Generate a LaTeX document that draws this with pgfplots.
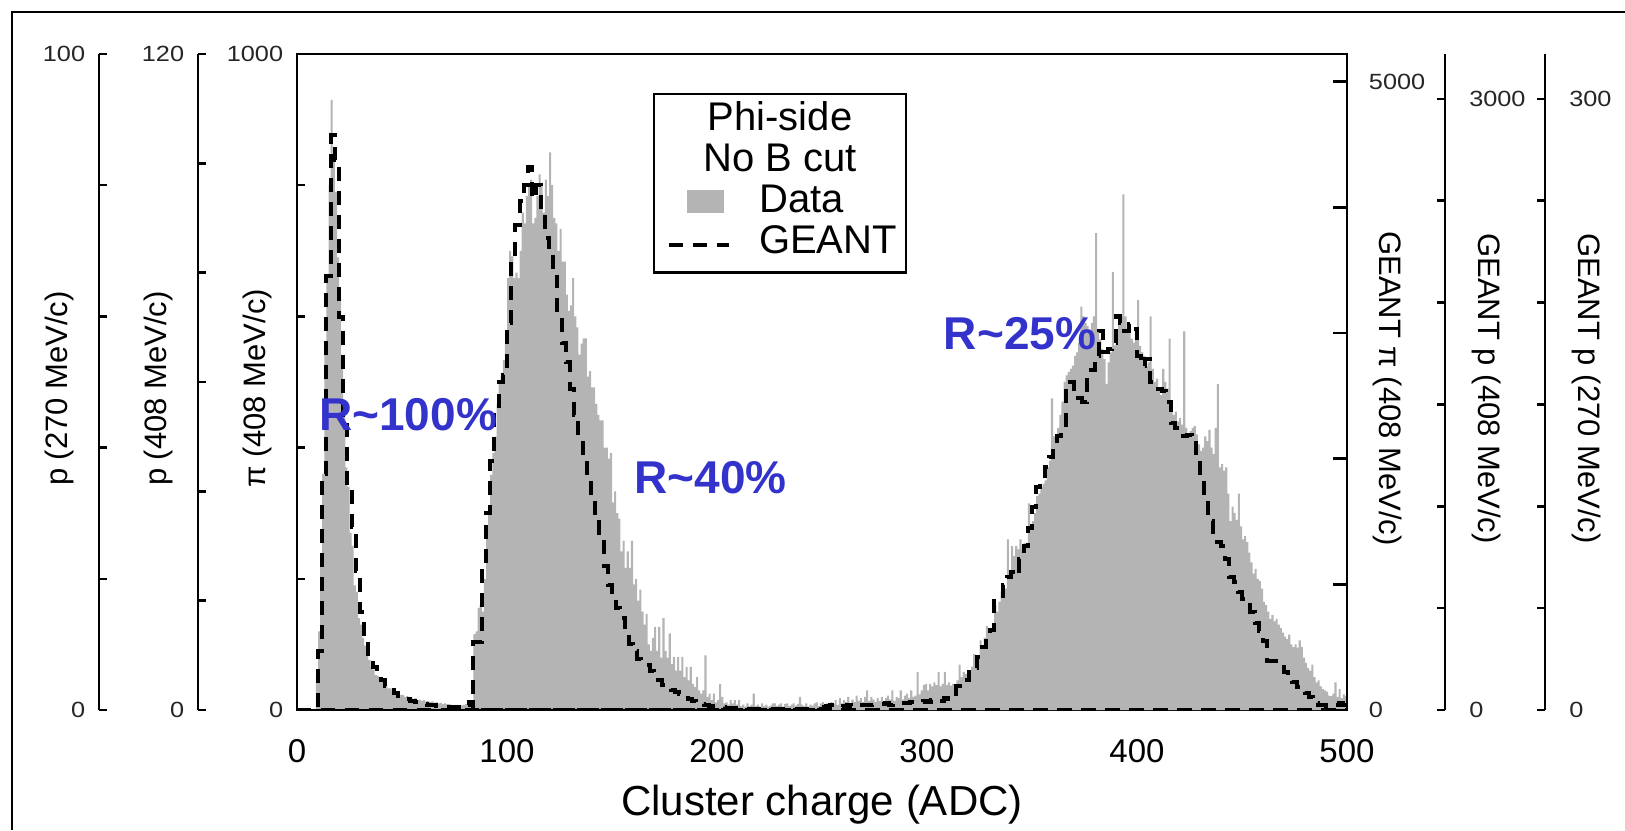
\documentclass[border=0pt]{standalone}
\usepackage{fontspec}
\setmainfont{Liberation Sans}
\usepackage{pgfplots}
\pgfplotsset{compat=1.18}

\definecolor{DataGray}{RGB}{180,180,180}
\definecolor{RBlue}{RGB}{51,51,204}

% one axis per scale, all sharing the same height; 1px of the original = 0.5pt
\pgfplotsset{
  stack/.style={
    scale only axis, height=328pt, ymin=0,
    axis line style={line width=1.3pt},
    every tick/.append style={line width=1.3pt, black},
    major tick length=4pt,
    ytick align=inside,
    /pgf/number format/assume math mode=true,
    yticklabel style={font=\fontsize{11}{12}\selectfont, xscale=1.15, text=black!85},
  },
  leftscale/.style={stack, axis x line=none, axis y line*=left,
    every axis y label/.style={at={(rel axis cs:0,0.49)}, xshift=-20pt, rotate=90, anchor=center,
      font=\fontsize{15.5}{17}\selectfont},
    yticklabel style={xshift=-2.5pt}},
  rightscale/.style={stack, axis x line=none, axis y line*=right,
    every axis y label/.style={at={(rel axis cs:1,0.49)}, xshift=20.5pt, rotate=-90, anchor=center,
      font=\fontsize{15.5}{17}\selectfont},
    yticklabel style={xshift=7pt}},
  datahist/.style={const plot, draw=none, fill=DataGray},
  geant/.style={const plot, black, line width=2pt, dash pattern=on 7pt off 5pt},
}

\begin{document}
\begin{tikzpicture}
\path[use as bounding box] (0,0) rectangle (812.5pt,415pt);
\draw[line width=1.3pt] (6pt,0) -- (6pt,409pt) -- (812.5pt,409pt);

% data, p 270 MeV/c
\begin{axis}[leftscale, at={(49.5pt,60pt)}, anchor=south west, width=624pt,
  xmin=-94.2857, xmax=500, ymax=100,
  ytick={0,20,...,100}, yticklabels={0,,,,,100},
  ylabel={p (270 MeV/c)}]
\addplot[datahist] coordinates {
(9,5) (10,12) (11,22) (12,36) (13,55) (14,66) (15,80) (16,93) (17,84) (18,79)
(19,69) (20,63) (21,52) (22,46) (23,37) (24,34) (25,27) (26,25) (27,19) (28,18)
(29,14) (30,13) (31,11) (32,9.8) (33,8.2) (34,7.6) (35,6.6) (36,6.2) (37,5.3) (38,5.2)
(39,4.4) (40,4.3) (41,3.8) (42,3.8) (43,3.3) (44,3.3) (45,2.9) (46,2.9) (47,2.5) (48,2.6)
(49,2.3) (50,2.3) (51,2.0) (52,2.1) (53,1.8) (54,1.9) (55,1.7) (56,1.8) (57,1.5) (58,1.6)
(59,1.4) (60,1.5) (61,1.3) (62,1.4) (63,1.2) (64,1.3) (65,1.1) (66,1.2) (67,1.0) (68,1.1)
(69,0.9) (70,1.0) (71,0.9) (72,0.9) (73,0.8) (74,0.8) (75,0.7) (76,0.8) (77,0.7) (78,0.7)
(79,0.8) (80,0.9) (81,1.0) (82,1.1) (83,1.2) (84,1.2)
} \closedcycle;
\end{axis}

% data, p 408 MeV/c
\begin{axis}[leftscale, at={(99pt,60pt)}, anchor=south west, width=574.5pt,
  xmin=-47.1429, xmax=500, ymax=120,
  ytick={0,20,...,120}, yticklabels={0,,,,,,120},
  ylabel={p (408 MeV/c)}]
\addplot[datahist] coordinates {
(84,13.9) (85,14.4) (86,18.7) (87,19.2) (88,18) (89,24) (90,32) (91,36) (92,43) (93,47)
(94,50) (95,56) (96,60) (97,61) (98,64) (99,67) (100,79) (101,84) (102,83) (103,79)
(104,80) (105,79) (106,84) (107,91) (108,89) (109,94) (110,96) (111,97) (112,89) (113,90)
(114,94) (115,98) (116,96) (117,91) (118,97) (119,94) (120,102) (121,96) (122,90) (123,89)
(124,84) (125,88) (126,82) (127,82) (128,76) (129,73) (130,74) (131,79) (132,72) (133,70)
(134,65) (135,67) (136,68) (137,68) (138,61) (139,62) (140,59) (141,59) (142,56) (143,54)
(144,53) (145,53) (146,48) (147,48) (148,46) (149,47) (150,38) (151,40) (152,36) (153,35)
(154,29) (155,31) (156,26) (157,29) (158,26) (159,31) (160,23) (161,24) (162,20) (163,22)
(164,18) (165,15.6) (166,17.6) (167,12) (168,10.8) (169,13.2) (170,15.2) (171,10.8) (172,15.2) (173,9.6)
(174,16.8) (175,10.8) (176,9.6) (177,14) (178,8.4) (179,9.7) (180,7.2) (181,9.7) (182,7.2) (183,9.7)
(184,6) (185,7.9) (186,5.4) (187,7.9) (188,4.8) (189,4.2) (190,6) (191,3.6) (192,3) (193,3.6)
(194,10) (195,2.4) (196,3) (197,1.8) (198,3) (199,1.4) (200,1.8) (201,4.8) (202,2.4) (203,1.2)
(204,1.4) (205,1) (206,1.8) (207,1.2) (208,1.8) (209,1) (210,1.8) (211,0.7) (212,1) (213,0.6)
(214,1.2) (215,0.7) (216,1) (217,3) (218,0.7) (219,1) (220,0.6) (221,1.2) (222,0.7) (223,1)
(224,0.6) (225,0.8) (226,1.2) (227,1.2) (228,0.7) (229,1) (230,1.2) (231,0.6) (232,1.1) (233,1.2)
(234,0.7) (235,1) (236,1.2) (237,0.8) (238,1.1) (239,2.4) (240,1) (241,0.7) (242,1.2) (243,0.6)
(244,1) (245,0.8) (246,1.2) (247,1.4) (248,0.7) (249,1.2) (250,1.2)
} \closedcycle;
\end{axis}

% data, pi 408 MeV/c -- main frame
\begin{axis}[stack, at={(148.5pt,60pt)}, anchor=south west, width=525pt,
  xmin=0, xmax=500, ymax=1000, tick pos=left,
  xtick={0,100,...,500}, xtick style={draw=none},
  xticklabel style={font=\fontsize{16.5}{18}\selectfont, anchor=base, yshift=-26pt},
  ytick={0,200,...,1000}, yticklabels={0,,,,,1000},
  yticklabel style={xshift=-2.5pt},
  xlabel={Cluster charge (ADC)},
  xlabel style={at={(rel axis cs:0.5,0)}, anchor=base, yshift=-52.5pt, font=\fontsize{21}{24}\selectfont},
  ylabel={π (408 MeV/c)},
  every axis y label/.style={at={(rel axis cs:0,0.49)}, xshift=-20pt, rotate=90, anchor=center,
    font=\fontsize{15.5}{17}\selectfont}]
\addplot[datahist] coordinates {
(250,12) (251,8) (252,10) (253,6) (254,12) (255,9) (256,15) (257,8) (258,18) (259,10)
(260,15) (261,12) (262,20) (263,11) (264,16) (265,12) (266,22) (267,14) (268,18) (269,12)
(270,20) (271,30) (272,14) (273,20) (274,16) (275,12) (276,18) (277,14) (278,20) (279,12)
(280,18) (281,22) (282,16) (283,30) (284,14) (285,20) (286,18) (287,30) (288,16) (289,22)
(290,25) (291,18) (292,30) (293,20) (294,22) (295,58) (296,24) (297,30) (298,38) (299,40)
(300,30) (301,40) (302,36) (303,42) (304,38) (305,58) (306,36) (307,40) (308,58) (309,38)
(310,42) (311,37) (312,40) (313,35) (314,45) (315,69) (316,50) (317,58) (318,55) (319,56)
(320,60) (321,66) (322,85) (323,70) (324,80) (325,106) (326,95) (327,110) (328,128) (329,118)
(330,125) (331,128) (332,160) (333,150) (334,165) (335,180) (336,175) (337,185) (338,260) (339,210)
(340,250) (341,235) (342,250) (343,245) (344,260) (345,245) (346,255) (347,250) (348,315) (349,280)
(350,288) (351,300) (352,326) (353,330) (354,340) (355,345) (356,350) (357,370) (358,380) (359,475)
(360,417) (361,420) (362,430) (363,450) (364,470) (365,500) (366,510) (367,515) (368,520) (369,525)
(370,540) (371,545) (372,560) (373,615) (374,600) (375,590) (376,585) (377,580) (378,590) (379,600)
(380,727) (381,577) (382,565) (383,550) (384,535) (385,497) (386,530) (387,545) (388,668) (389,556)
(390,575) (391,590) (392,600) (393,786) (394,600) (395,580) (396,575) (397,566) (398,560) (399,580)
(400,625) (401,555) (402,545) (403,540) (404,524) (405,530) (406,600) (407,520) (408,500) (409,505)
(410,490) (411,480) (412,520) (413,500) (414,490) (415,566) (416,470) (417,450) (418,455) (419,440)
(420,445) (421,435) (422,577) (423,430) (424,420) (425,425) (426,430) (427,433) (428,420) (429,405)
(430,395) (431,400) (432,417) (433,410) (434,427) (435,400) (436,390) (437,430) (438,497) (439,370)
(440,375) (441,365) (442,370) (443,330) (444,288) (445,310) (446,300) (447,290) (448,330) (449,280)
(450,260) (451,265) (452,256) (453,240) (454,225) (455,208) (456,215) (457,200) (458,197) (459,185)
(460,165) (461,160) (462,150) (463,139) (464,145) (465,135) (466,139) (467,130) (468,125) (469,118)
(470,112) (471,108) (472,115) (473,100) (474,96) (475,100) (476,95) (477,106) (478,96) (479,80)
(480,72) (481,64) (482,60) (483,69) (484,50) (485,42) (486,45) (487,36) (488,32) (489,30)
(490,28) (491,22) (492,21) (493,25) (494,42) (495,20) (496,32) (497,18) (498,24) (499,21)
(500,21)
} \closedcycle;
\end{axis}

% GEANT, p 270 MeV/c
\begin{axis}[rightscale, at={(148.5pt,60pt)}, anchor=south west, width=624pt,
  xmin=0, xmax=594.2857, ymax=322,
  ytick={0,50,...,300}, yticklabels={0,,,,,,300},
  ylabel={GEANT p (270 MeV/c)}]
\addplot[geant] coordinates {
(0,0) (10,29) (12,116) (14,213) (16,282) (18,270) (20,193) (22,145) (24,109) (26,90)
(28,68) (30,48) (32,35) (34,26) (36,21) (38,18) (40,14.5) (42,11.6) (44,10) (46,8.4)
(48,7.1) (50,6.1) (52,5.2) (54,4.5) (56,3.9) (58,3.2) (60,2.9) (62,2.6) (64,2.3) (66,1.9)
(68,1.9) (70,1.6) (72,1.6) (74,1.3) (76,1.3) (78,1.9) (80,2.6) (82,3.9) (84,0) (500,0)
};
\end{axis}

% GEANT, p 408 MeV/c
\begin{axis}[rightscale, at={(148.5pt,60pt)}, anchor=south west, width=574pt,
  xmin=0, xmax=546.6667, ymax=3220,
  ytick={0,500,...,3000}, yticklabels={0,,,,,,3000},
  ylabel={GEANT p (408 MeV/c)}]
\addplot[geant] coordinates {
(0,0) (84,335) (86,335) (88,708) (90,966) (92,1224) (94,1449) (96,1610) (98,1642) (100,1900)
(102,2190) (104,2383) (106,2496) (108,2576) (110,2663) (112,2512) (114,2576) (116,2447) (118,2318) (120,2254)
(122,2125) (124,1932) (126,1803) (128,1707) (130,1578) (132,1449) (134,1320) (136,1224) (138,1127) (140,1030)
(142,934) (144,869) (146,708) (148,612) (150,547) (152,499) (154,451) (156,386) (158,322) (160,290)
(162,251) (164,232) (166,219) (168,193) (170,177) (172,148) (174,122) (176,109) (178,97) (180,87)
(182,77) (184,68) (186,55) (188,42) (190,35) (192,29) (194,23) (196,19) (198,16) (200,13)
(204,10) (210,6) (250,0) (500,0)
};
\end{axis}

% GEANT, pi 408 MeV/c, with legend and resolution notes
\begin{axis}[rightscale, at={(148.5pt,60pt)}, anchor=south west, width=525pt,
  xmin=0, xmax=500, ymax=5220, major tick length=7pt,
  ytick={0,1000,...,5000}, yticklabels={0,,,,,5000},
  yticklabel style={xshift=-1pt},
  ylabel={GEANT π (408 MeV/c)}]
\addplot[geant] coordinates {
(0,0) (250,21) (252,31) (254,42) (256,31) (258,26) (260,31) (262,42) (264,31) (266,26)
(268,37) (270,42) (272,37) (274,42) (276,42) (278,47) (280,52) (282,42) (284,47) (286,52)
(288,57) (290,52) (292,63) (294,68) (296,63) (298,73) (300,63) (302,78) (304,84) (306,73)
(308,94) (310,84) (312,104) (314,193) (316,193) (318,235) (320,334) (322,334) (324,418) (326,501)
(328,574) (330,637) (332,887) (334,887) (336,992) (338,1060) (340,1096) (342,1070) (344,1201) (346,1305)
(348,1451) (350,1618) (352,1775) (354,1827) (356,1931) (358,2010) (360,2088) (362,2177) (364,2245) (366,2610)
(368,2610) (370,2558) (372,2480) (374,2453) (376,2678) (378,2704) (380,2819) (382,3012) (384,2845) (386,2871)
(388,2923) (390,3132) (392,3080) (394,3012) (396,3069) (398,3028) (400,2819) (402,2735) (404,2793) (406,2610)
(408,2558) (410,2558) (412,2537) (414,2453) (416,2286) (418,2245) (420,2229) (422,2177) (424,2192) (426,2177)
(428,2010) (430,1837) (432,1644) (434,1503) (436,1357) (438,1336) (440,1305) (442,1201) (444,1060) (446,1018)
(448,940) (450,887) (452,835) (454,783) (456,694) (458,626) (460,553) (462,386) (464,386) (466,360)
(468,339) (470,303) (472,261) (474,219) (476,183) (478,167) (480,136) (482,104) (484,52) (486,42)
(488,37) (490,26) (492,31) (494,42) (496,52) (498,42) (500,42)
};
\node[font=\bfseries\fontsize{23}{26}\selectfont, text=RBlue] at (rel axis cs:0.1058,0.45) {R\textasciitilde 100\%};
\node[font=\bfseries\fontsize{23}{26}\selectfont, text=RBlue] at (rel axis cs:0.394,0.354) {R\textasciitilde 40\%};
\node[font=\bfseries\fontsize{23}{26}\selectfont, text=RBlue] at (rel axis cs:0.6886,0.574) {R\textasciitilde 25\%};
\node[draw, line width=1.2pt, anchor=north west, inner xsep=0pt, inner ysep=3.5pt,
  font=\fontsize{20}{20.5}\selectfont] at (rel axis cs:0.339,0.9405) {%
  \begin{tabular}{@{\hspace{7.5pt}}l@{\hspace{15pt}}l@{\hspace{4.5pt}}}
  \multicolumn{2}{@{}c@{}}{Phi-side}\\
  \multicolumn{2}{@{}c@{}}{No B cut}\\
  \hspace*{9pt}\textcolor{DataGray}{\rule[-0.5pt]{18.5pt}{11.5pt}} & Data\\
  \rule[3.1pt]{7pt}{1.8pt}\hspace{5pt}\rule[3.1pt]{7pt}{1.8pt}\hspace{5pt}\rule[3.1pt]{6pt}{1.8pt} & GEANT
  \end{tabular}};
\end{axis}
\end{tikzpicture}
\end{document}
